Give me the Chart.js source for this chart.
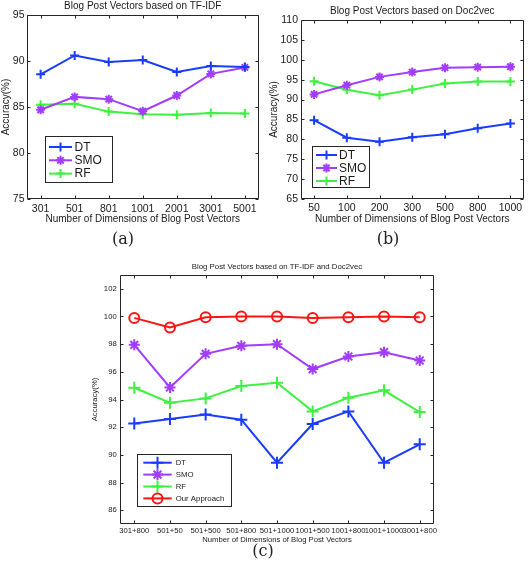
<!DOCTYPE html>
<html><head><meta charset="utf-8">
<script src="https://cdn.jsdelivr.net/npm/chart.js@4.4.0/dist/chart.umd.min.js"></script>
<style>
html,body{margin:0;padding:0;background:#fff;width:530px;height:568px;overflow:hidden;}
canvas{position:absolute;}
.cap{position:absolute;font-family:'DejaVu Serif',serif;font-size:16px;color:#222;transform:translate(-50%,-50%);white-space:nowrap;}
</style></head><body>
<canvas id="ca" width="265" height="230" style="left:0;top:0"></canvas>
<canvas id="cb" width="265" height="230" style="left:265px;top:0"></canvas>
<canvas id="cc" width="370" height="300" style="left:80px;top:255px"></canvas>
<div class="cap" style="left:123px;top:238px">(a)</div>
<div class="cap" style="left:388px;top:238px">(b)</div>
<div class="cap" style="left:263px;top:550px">(c)</div>
<script>
// ---- data ----
const catsA = ['301','501','801','1001','2001','3001','5001'];
const dtA  = [88.55, 90.6, 89.9, 90.1, 88.8, 89.45, 89.35];
const smoA = [84.7, 86.1, 85.85, 84.55, 86.25, 88.6, 89.3];
const rfA  = [85.25, 85.35, 84.5, 84.2, 84.15, 84.35, 84.3];
const yTicksA = [75, 80, 85, 90, 95];

const catsB = ['50','100','200','300','500','800','1000'];
const dtB  = [84.8, 80.4, 79.4, 80.5, 81.3, 82.8, 84.0];
const smoB = [91.3, 93.6, 95.7, 96.9, 98.0, 98.15, 98.25];
const rfB  = [94.6, 92.45, 91.1, 92.5, 94.05, 94.55, 94.55];
const yTicksB = [65, 70, 75, 80, 85, 90, 95, 100, 105, 110];

const catsC = ['301+800','501+50','501+500','501+800','501+1000','1001+500','1001+800','1001+1000','3001+800'];
const dtC   = [92.27, 92.59, 92.92, 92.54, 89.43, 92.23, 93.14, 89.43, 90.76];
const smoC  = [97.95, 94.87, 97.3, 97.88, 98.0, 96.2, 97.11, 97.42, 96.82];
const rfC   = [94.85, 93.77, 94.08, 94.97, 95.21, 93.14, 94.13, 94.66, 93.09];
const oursC = [99.9, 99.2, 99.95, 100, 100, 99.9, 99.95, 100, 99.95];
const yTicksC = [86, 88, 90, 92, 94, 96, 98, 100, 102];

const BLUE = '#1a3cff', PURPLE = '#a23cff', GREEN = '#40f040', RED = '#ff1414', AX = '#262626';
const FONT = "'Liberation Sans', Arial, sans-serif";

// ---- plugins ----
const boxPlugin = {
  id: 'matBox',
  afterDatasetsDraw(chart, args, o) {
    const {ctx, chartArea: a, scales: {x, y}} = chart;
    const L = Math.round(a.left) + 0.5, R = Math.round(a.right) - 0.5;
    const T = Math.round(a.top) + 0.5, B = Math.round(a.bottom) - 0.5;
    const tl = o.tick || 3;
    ctx.save();
    ctx.strokeStyle = AX; ctx.lineWidth = 1;
    ctx.beginPath();
    ctx.rect(L, T, R - L, B - T);
    x.ticks.forEach(t => {
      const p = Math.round(x.getPixelForValue(t.value)) + 0.5;
      ctx.moveTo(p, B); ctx.lineTo(p, B - tl);
      ctx.moveTo(p, T); ctx.lineTo(p, T + tl);
    });
    y.ticks.forEach(t => {
      const p = Math.round(y.getPixelForValue(t.value)) + 0.5;
      ctx.moveTo(L, p); ctx.lineTo(L + tl, p);
      ctx.moveTo(R, p); ctx.lineTo(R - tl, p);
    });
    ctx.stroke();
    ctx.restore();
  }
};

const legendPlugin = {
  id: 'matLegend',
  afterDraw(chart, args, o) {
    if (!o || !o.box) return;
    const ctx = chart.ctx;
    const [bx, by, bw, bh] = o.box;
    ctx.save();
    ctx.fillStyle = '#fff';
    ctx.fillRect(bx, by, bw, bh);
    ctx.strokeStyle = AX; ctx.lineWidth = 1;
    ctx.strokeRect(Math.round(bx) + 0.5, Math.round(by) + 0.5, Math.round(bw), Math.round(bh));
    chart.data.datasets.forEach((ds, i) => {
      const yy = o.y0 + i * o.step;
      ctx.strokeStyle = ds.borderColor;
      ctx.lineWidth = ds.borderWidth;
      ctx.beginPath();
      ctx.moveTo(o.x1, yy); ctx.lineTo(o.x2, yy);
      ctx.stroke();
      ctx.fillStyle = 'rgba(0,0,0,0)';
      ctx.lineWidth = ds.pointBorderWidth;
      Chart.helpers.drawPoint(ctx, {pointStyle: ds.pointStyle, radius: ds.pointRadius, borderWidth: ds.pointBorderWidth, rotation: 0}, (o.x1 + o.x2) / 2, yy);
      ctx.fillStyle = '#1a1a1a';
      ctx.font = o.font + 'px ' + FONT;
      ctx.textBaseline = 'middle';
      ctx.textAlign = 'left';
      ctx.fillText(ds.label, o.tx, yy + 0.5);
    });
    ctx.restore();
  }
};

function ds(label, vals, color, style, r, lw) {
  return {
    label, data: vals.map((v, i) => ({x: i + 1, y: v})),
    borderColor: color, backgroundColor: 'rgba(0,0,0,0)', borderWidth: lw,
    pointStyle: style, pointRadius: r, pointHoverRadius: r, pointBorderWidth: lw,
    pointBorderColor: color, pointBackgroundColor: 'rgba(0,0,0,0)',
    tension: 0, clip: false
  };
}

function build(id, cats, yTicks, datasets, s) {
  new Chart(document.getElementById(id), {
    type: 'line',
    data: {datasets},
    plugins: [boxPlugin, legendPlugin],
    options: {
      responsive: false, animation: false, devicePixelRatio: 1,
      layout: {padding: s.pad},
      plugins: {
        legend: {display: false}, tooltip: {enabled: false},
        title: {display: true, text: s.title, fullSize: false, color: '#1a1a1a',
          font: {family: FONT, size: s.titleSize, weight: 'normal'}, padding: s.titlePad},
        matBox: {tick: s.tick},
        matLegend: s.legend
      },
      scales: {
        x: {
          type: 'linear', min: s.xmin, max: s.xmax,
          afterBuildTicks: sc => { sc.ticks = cats.map((c, i) => ({value: i + 1})); },
          afterFit: sc => { sc.height = s.xh; },
          grid: {display: false, drawTicks: false}, border: {display: false},
          ticks: {autoSkip: false, maxRotation: 0, padding: s.xtp, color: '#1a1a1a',
            font: {family: FONT, size: s.tickSize}, callback: v => cats[Math.round(v) - 1]},
          title: {display: true, text: 'Number of Dimensions of Blog Post Vectors', color: '#1a1a1a',
            font: {family: FONT, size: s.labSize}, padding: {top: 0, bottom: s.xlp}}
        },
        y: {
          type: 'linear', min: s.ymin, max: s.ymax,
          afterBuildTicks: sc => { sc.ticks = yTicks.map(v => ({value: v})); },
          afterFit: sc => { sc.width = s.yw; },
          grid: {display: false, drawTicks: false}, border: {display: false},
          ticks: {padding: s.ytp, color: '#1a1a1a', font: {family: FONT, size: s.tickSize}},
          title: {display: true, text: 'Accuracy(%)', color: '#1a1a1a',
            font: {family: FONT, size: s.labSize}, padding: {top: s.ylp, bottom: 0}}
        }
      }
    }
  });
}

build('ca', catsA, yTicksA, [
  ds('DT', dtA, BLUE, 'cross', 4.5, 2),
  ds('SMO', smoA, PURPLE, 'star', 4.5, 2),
  ds('RF', rfA, GREEN, 'cross', 4.5, 2)
], {
  pad: {top: 0, left: 0, right: 6, bottom: 0},
  title: 'Blog Post Vectors based on TF-IDF', titleSize: 10, titlePad: {top: 0, bottom: 3},
  xmin: 0.6, xmax: 7.4, ymin: 75, ymax: 95, xh: 31, yw: 27, xtp: 3.5, ytp: 2.5, xlp: 5, ylp: 0,
  tickSize: 10.5, labSize: 10, tick: 3,
  legend: {box: [45, 136, 67, 46], y0: 147, step: 13.3, x1: 49, x2: 72, tx: 74.5, font: 12}
});

build('cb', catsB, yTicksB, [
  ds('DT', dtB, BLUE, 'cross', 4.5, 2),
  ds('SMO', smoB, PURPLE, 'star', 4.5, 2),
  ds('RF', rfB, GREEN, 'cross', 4.5, 2)
], {
  pad: {top: 0, left: 0, right: 2, bottom: 0},
  title: 'Blog Post Vectors based on Doc2vec', titleSize: 10, titlePad: {top: 5, bottom: 3},
  xmin: 0.6, xmax: 7.4, ymin: 65, ymax: 110, xh: 31, yw: 36, xtp: 3, ytp: 3, xlp: 5, ylp: 3.5,
  tickSize: 10.5, labSize: 10, tick: 3,
  legend: {box: [47, 146, 57, 41], y0: 155, step: 13, x1: 51, x2: 72, tx: 74, font: 12}
});

build('cc', catsC, yTicksC, [
  ds('DT', dtC, BLUE, 'cross', 6, 2),
  ds('SMO', smoC, PURPLE, 'star', 5.5, 2),
  ds('RF', rfC, GREEN, 'cross', 6, 2),
  ds('Our Approach', oursC, RED, 'circle', 5, 2)
], {
  pad: {top: 0, left: 0, right: 16, bottom: 0},
  title: 'Blog Post Vectors based on TF-IDF and Doc2vec', titleSize: 7.8, titlePad: {top: 7, bottom: 3.64},
  xmin: 0.6, xmax: 9.4, ymin: 85, ymax: 103, xh: 31, yw: 40, xtp: 2.1, ytp: 3.3, xlp: 10, ylp: 10.4,
  tickSize: 7.7, labSize: 7.7, tick: 3,
  legend: {box: [57, 199, 94, 52], y0: 207.7, step: 11.9, x1: 63.3, x2: 91.7, tx: 95.7, font: 7.8}
});
</script>
</body></html>
